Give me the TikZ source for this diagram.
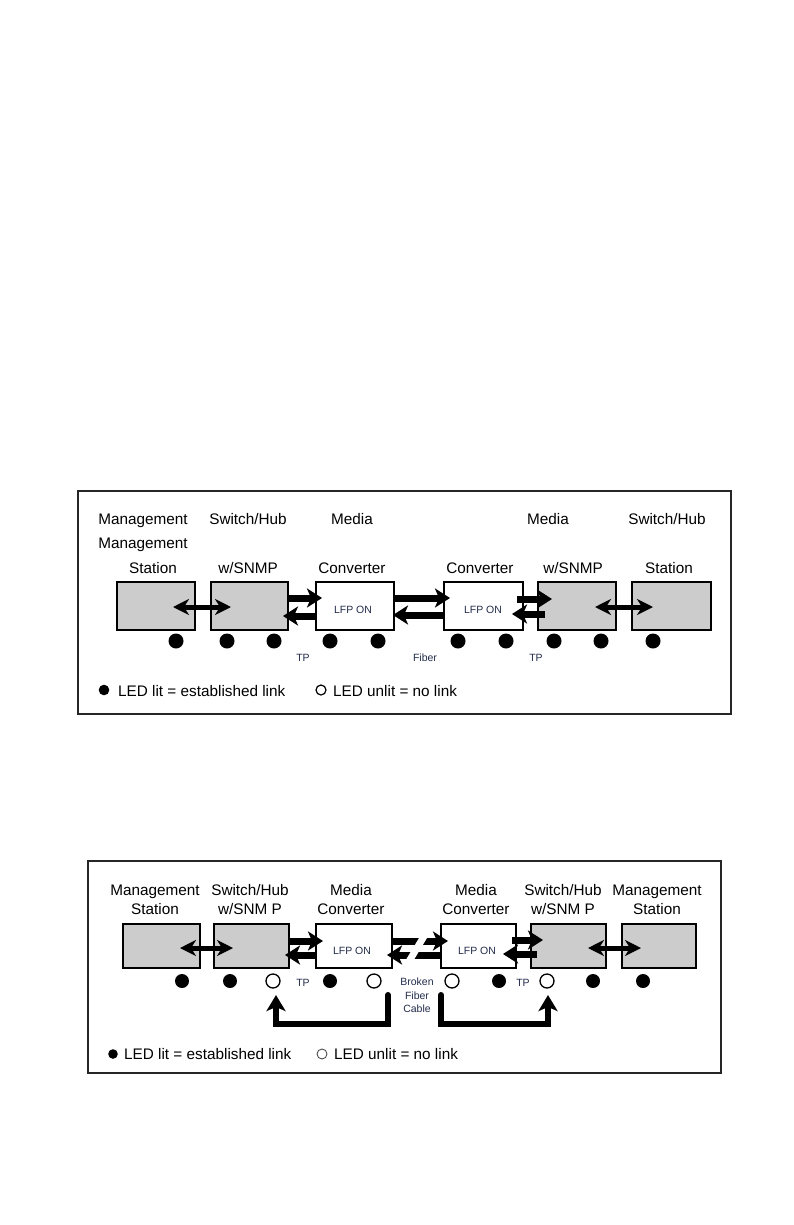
\documentclass[tikz,border=0pt]{standalone}
\usepackage{fontspec}
\setmainfont{Liberation Sans}
\usetikzlibrary{arrows.meta,calc}
\definecolor{boxgray}{RGB}{204,204,204}
\definecolor{smalltxt}{RGB}{35,45,75}
\begin{document}
\begin{tikzpicture}[x=1pt,y=-1pt,
  frame/.style={draw=black!85, line width=1.5pt, rectangle, inner sep=0pt, outer sep=0pt},
  devbox/.style={draw, line width=2pt, fill=boxgray, rectangle, inner sep=0pt, outer sep=0pt},
  conv/.style={devbox, fill=white},
  lab/.style={font=\fontsize{15.3}{17}\selectfont, anchor=base, inner sep=0pt},
  small/.style={font=\fontsize{10.5}{13}\selectfont, text=smalltxt, anchor=base, inner sep=0pt},
  ledon/.style={circle, fill=black, minimum size=15pt, inner sep=0pt},
  ledoff/.style={circle, draw, line width=1.3pt, fill=white, minimum size=14pt, inner sep=0pt},
  dbl/.style={line width=5pt, {Stealth[length=16pt,width=16pt,inset=5pt]}-{Stealth[length=16pt,width=16pt,inset=5pt]}},
  link/.style={line width=7pt, -{Stealth[length=15pt,width=19pt,inset=4pt]}},
  fb/.style={line width=6pt, line cap=round, -{Stealth[length=16pt,width=19pt,inset=4pt]}},
]
\fill[white] (0,0) rectangle (793,1225);
\useasboundingbox (0,0) rectangle (793,1225);

% ================= top diagram =================
\node[frame, minimum width=653pt, minimum height=223pt] (frA) at (404.5,602.5) {};

\node[devbox, minimum width=78pt, minimum height=48pt] (a1) at (156,606) {};
\node[devbox, minimum width=77pt, minimum height=48pt] (a2) at (249.5,606) {};
\node[conv,   minimum width=78pt, minimum height=48pt] (a3) at (355,606) {};
\node[conv,   minimum width=79pt, minimum height=48pt] (a4) at (483.5,606) {};
\node[devbox, minimum width=78pt, minimum height=48pt] (a5) at (577,606) {};
\node[devbox, minimum width=79pt, minimum height=48pt] (a6) at (671.5,606) {};

\node[small] (a3t) at (353,613) {LFP ON};
\node[small] (a4t) at (483,613) {LFP ON};

\node[lab] (ta1) at (143,524) {Management};
\node[lab] (ta2) at (248,524) {Switch/Hub};
\node[lab] (ta3) at (352,524) {Media};
\node[lab] (ta4) at (548,524) {Media};
\node[lab] (ta5) at (667,524) {Switch/Hub};
\node[lab] (tb1) at (143,548) {Management};
\node[lab] (tc1) at (153,573) {Station};
\node[lab] (tc2) at (248,573) {w/SNMP};
\node[lab] (tc3) at (352,573) {Converter};
\node[lab] (tc4) at (480,573) {Converter};
\node[lab] (tc5) at (573,573) {w/SNMP};
\node[lab] (tc6) at (669,573) {Station};

\foreach \x [count=\i] in {176,227,274,330,378,458,506,554,601,653}
  \node[ledon] (la\i) at (\x,641) {};

\node[small] (tpa1) at (303,661) {TP};
\node[small] (fib) at (425,661) {Fiber};
\node[small] (tpa2) at (536,661) {TP};

\draw[dbl] ($(a1.east)+(-22,1)$) -- ($(a2.west)+(20,1)$);
\draw[link] ($(a2.east)+(0,-8)$) -- ($(a3.west)+(6,-8)$);
\draw[link] ($(a3.west)+(0,10)$) -- ($(a2.east)+(-5,10)$);
\draw[link] ($(a3.east)+(0,-8)$) -- ($(a4.west)+(6,-8)$);
\draw[link] ($(a4.west)+(0,9)$) -- ($(a3.east)+(-1,9)$);
\draw[link] ($(a4.east)+(-6,-7)$) -- ($(a5.west)+(14,-7)$);
\draw[link] ($(a5.west)+(7,8)$) -- ($(a4.east)+(-11,8)$);
\draw[dbl] ($(a5.east)+(-21,1)$) -- ($(a6.west)+(21,1)$);

\node[circle, fill=black, minimum size=10.6pt, inner sep=0pt] (lga1) at (104,690) {};
\node[lab, anchor=base west] (lga2) at (118,696) {LED lit = established link};
\node[circle, draw, line width=1.2pt, minimum size=10pt, inner sep=0pt] (lga3) at (321,690) {};
\node[lab, anchor=base west] (lga4) at (333,696) {LED unlit = no link};

% ================= bottom diagram =================
\node[frame, minimum width=633pt, minimum height=212pt] (frB) at (404.5,967) {};

\node[devbox, minimum width=77pt, minimum height=44pt] (b1) at (161.5,946) {};
\node[devbox, minimum width=75pt, minimum height=44pt] (b2) at (251.5,946) {};
\node[conv,   minimum width=76pt, minimum height=44pt] (b3) at (354,946) {};
\node[conv,   minimum width=75pt, minimum height=44pt] (b4) at (478.5,946) {};
\node[devbox, minimum width=75pt, minimum height=44pt] (b5) at (568.5,946) {};
\node[devbox, minimum width=74pt, minimum height=44pt] (b6) at (659,946) {};

\node[small] (b3t) at (352,954) {LFP ON};
\node[small] (b4t) at (477,954) {LFP ON};

\node[lab] (ua1) at (155,895) {Management};
\node[lab] (ua2) at (250,895) {Switch/Hub};
\node[lab] (ua3) at (351,895) {Media};
\node[lab] (ua4) at (476,895) {Media};
\node[lab] (ua5) at (563,895) {Switch/Hub};
\node[lab] (ua6) at (657,895) {Management};
\node[lab] (ub1) at (155,914) {Station};
\node[lab] (ub2) at (250,914) {w/SNM P};
\node[lab] (ub3) at (351,914) {Converter};
\node[lab] (ub4) at (476,914) {Converter};
\node[lab] (ub5) at (563,914) {w/SNM P};
\node[lab] (ub6) at (657,914) {Station};

\node[ledon, minimum size=14pt] (lb1) at (182,981) {};
\node[ledon, minimum size=14pt] (lb2) at (230,981) {};
\node[ledoff] (lb3) at (273,981) {};
\node[ledon, minimum size=14pt] (lb4) at (330,981) {};
\node[ledoff] (lb5) at (374,981) {};
\node[ledoff] (lb6) at (452,981) {};
\node[ledon, minimum size=14pt] (lb7) at (499,981) {};
\node[ledoff] (lb8) at (547,981) {};
\node[ledon, minimum size=14pt] (lb9) at (593,981) {};
\node[ledon, minimum size=14pt] (lb10) at (643,981) {};

\node[small] (tpb1) at (303,986) {TP};
\node[small] (tpb2) at (523,986) {TP};
\node[small] (brk1) at (417,985) {Broken};
\node[small] (brk2) at (417,999) {Fiber};
\node[small] (brk3) at (417,1012) {Cable};

\draw[dbl] ($(b1.east)+(-20,2)$) -- ($(b2.west)+(19,2)$);
\draw[link] ($(b2.east)+(0,-5)$) -- ($(b3.west)+(7,-5)$);
\draw[link] ($(b3.west)+(0,9)$) -- ($(b2.east)+(-4,9)$);
\draw[link] ($(b3.east)+(0,-5)$) -- ($(b4.west)+(7,-5)$);
\draw[link] ($(b4.west)+(0,9)$) -- ($(b3.east)+(-5,9)$);
\fill[white] (421.4,934) -- (429.4,934) -- (412.6,962) -- (404.6,962) -- cycle;
\draw[link] ($(b4.east)+(-4,-6)$) -- ($(b5.west)+(12,-6)$);
\draw[link] ($(b5.west)+(6,8)$) -- ($(b4.east)+(-13,8)$);
\draw[dbl] ($(b5.east)+(-18,2)$) -- ($(b6.west)+(19,2)$);

\draw[fb] ($(lb5)+(14,14)$) -- ++(0,29) -| ($(lb3)+(3,14)$);
\draw[fb] ($(lb6)+(-11,14)$) -- ++(0,29) -| ($(lb8)+(1,14)$);

\node[circle, fill=black, minimum size=9.6pt, inner sep=0pt] (lgb1) at (113,1054) {};
\node[lab, anchor=base west] (lgb2) at (124,1059) {LED lit = established link};
\node[circle, draw=black!70, line width=0.9pt, minimum size=10pt, inner sep=0pt] (lgb3) at (322,1054) {};
\node[lab, anchor=base west] (lgb4) at (334,1059) {LED unlit = no link};
\end{tikzpicture}
\end{document}
